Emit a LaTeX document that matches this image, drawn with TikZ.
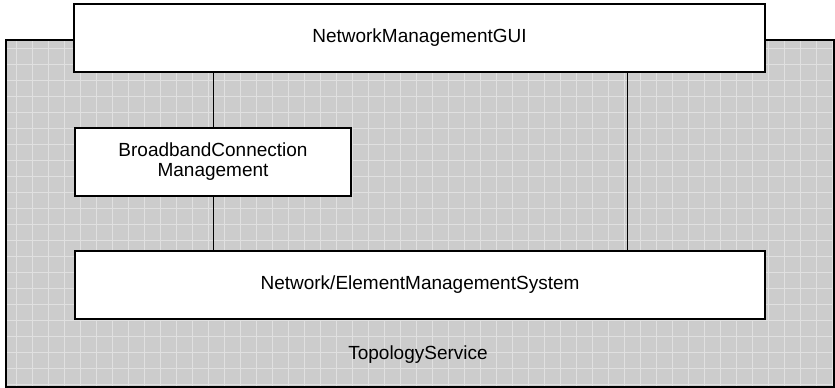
\documentclass[tikz,border=0pt]{standalone}
\usepackage{fontspec}
\setmainfont{Liberation Sans}
\begin{document}
\begin{tikzpicture}[x=1pt,y=-1pt,
  lbl/.style={font=\fontsize{19}{20}\selectfont},
  box/.style={draw=black,line width=1.5pt,fill=white,minimum height=68pt,inner sep=0pt,align=center,lbl},
  link/.style={draw=black,line width=1pt}]
\useasboundingbox (0,0) rectangle (835,388);
% outer area
\fill[black!20] (5,39) rectangle (833,386);
\begin{scope}
\clip (5,39) rectangle (833,386);
\draw[white,line width=1pt,opacity=0.4,step=16pt] (0,0) grid (840,400);
\end{scope}
\node[draw=black,line width=1.5pt,minimum width=828pt,minimum height=347pt,inner sep=0pt,anchor=north west] (topo) at (5,39) {};
\node[lbl] (topolabel) at (418,355) {TopologyService};
\node[box,minimum width=691pt] (gui) at (419.5,38) {NetworkManagementGUI};
\node[box,minimum width=276pt] (bcm) at (213,162) {BroadbandConnection\\Management};
\node[box,minimum width=690pt] (nems) at (420,285) {Network/ElementManagementSystem};
\coordinate (rx) at (627,0);
\draw[link] (gui.south -| bcm.north) -- (bcm.north);
\draw[link] (bcm.south) -- (nems.north -| bcm.south);
\draw[link] (gui.south -| rx) -- (nems.north -| rx);
\end{tikzpicture}
\end{document}
